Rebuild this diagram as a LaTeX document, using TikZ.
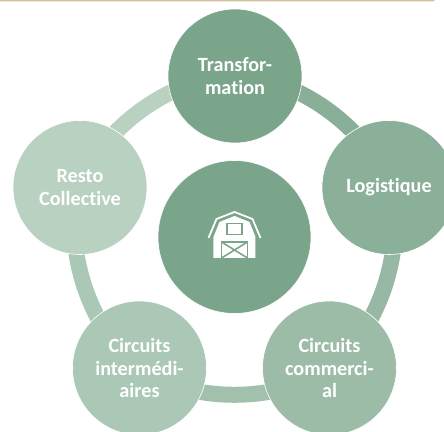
\documentclass[tikz,border=0pt]{standalone}
\usepackage{fontspec}
\setmainfont[RawFeature={-liga;-clig}]{Carlito}
\usetikzlibrary{backgrounds}

\definecolor{greenA}{HTML}{7BA58B}
\definecolor{greenB}{HTML}{8BB09A}
\definecolor{greenC}{HTML}{9CBCA8}
\definecolor{greenD}{HTML}{AAC8B5}
\definecolor{greenE}{HTML}{B8D1C1}
\definecolor{bandTan}{HTML}{D3BE9B}

\tikzset{
	petal/.style={circle, draw=white, line width=0.35pt, minimum width=2.68cm, inner sep=0pt, align=center, text=white, font=\bfseries\fontsize{11.5}{12.6}\selectfont},
	ring/.style={line width=0.32cm, looseness=0.82}
}

\begin{document}
\begin{tikzpicture}
		
		\useasboundingbox (0,0) rectangle (8.88,8.64);
		
		\fill[bandTan, rounded corners=0.03cm] (-0.1,8.72) rectangle (8.7,8.61);
		
		
		\node[petal, fill=greenA] 
		(transNode) at (4.7,7.12) {Transfor-\\mation};
		
		\node[petal, fill=greenB] 
		(logNode) at (7.78,4.89) {Logistique};
		
		\node[petal, fill=greenC] 
		(commNode) at (6.59,1.28) {Circuits\\commerci-\\al};
		
		\node[petal, fill=greenD] 
		(interNode) at (2.79,1.28) {Circuits\\intermédi-\\aires};
		
		\node[petal, fill=greenE] 
		(restoNode) at (1.6,4.89) {Resto\\Collective};
		
		\node[circle, draw=white, line width=0.35pt, fill=greenA, minimum width=3.06cm] 
		(hubNode) at (4.69,3.9) {};
		
		% Ring
		
		\begin{scope}[on background layer]
			\draw[ring, draw=greenB!92!greenA] (transNode.center) to[bend left=36] (logNode.center);
			
			\draw[ring, draw=greenC!70!greenB] (logNode.center) to[bend left=36] (commNode.center);
			
			\draw[ring, draw=greenC!60!greenD] (commNode.center) to[bend left=36] (interNode.center);
			
			\draw[ring, draw=greenD] (interNode.center) to[bend left=36] (restoNode.center);
			
			\draw[ring, draw=greenE] (restoNode.center) to[bend left=36] (transNode.center);
		\end{scope}
		
		% Barn
		
		\begin{scope}[shift={(hubNode.center)}]
			\fill[white] (-0.42,-0.42) -- (-0.42,0) -- (-0.3,0.3) -- (0,0.42) -- (0.3,0.3) -- (0.42,0) -- (0.42,-0.42) -- cycle;
			\draw[white, line width=1pt] (-0.52,-0.02) -- (-0.36,0.36) -- (0,0.5) -- (0.36,0.36) -- (0.52,-0.02);
			\draw[greenA, line width=1.1pt] (-0.15,0.05) rectangle (0.15,0.27);
			\draw[greenA, line width=1.1pt] (-0.26,-0.42) -- (-0.26,-0.1) -- (0.26,-0.1) -- (0.26,-0.42);
			\draw[greenA, line width=0.9pt] (-0.26,-0.42) -- (0.26,-0.1);
			\draw[greenA, line width=0.9pt] (-0.26,-0.1) -- (0.26,-0.42);
		\end{scope}
		
	\end{tikzpicture}
\end{document}
